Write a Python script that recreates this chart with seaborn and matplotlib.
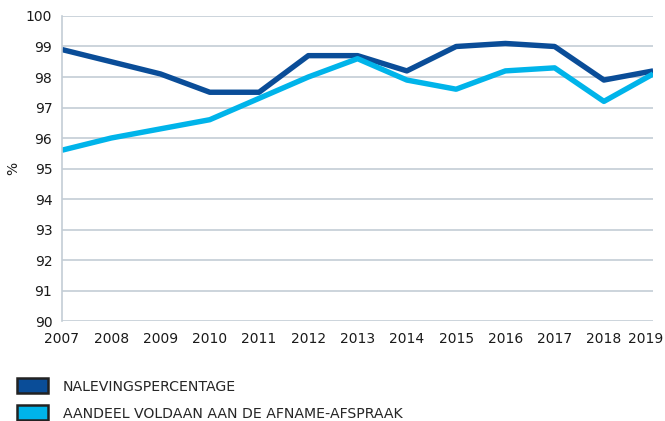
import matplotlib
matplotlib.use("Agg")
import matplotlib.pyplot as plt
import matplotlib.transforms as mtransforms
import seaborn as sns
import pandas as pd
from matplotlib.patches import Patch

years = [2007, 2008, 2009, 2010, 2011, 2012, 2013, 2014, 2015, 2016, 2017, 2018, 2019]
naleving = [98.9, 98.5, 98.1, 97.5, 97.5, 98.7, 98.7, 98.2, 99.0, 99.1, 99.0, 97.9, 98.2]
afname = [95.6, 96.0, 96.3, 96.6, 97.3, 98.0, 98.6, 97.9, 97.6, 98.2, 98.3, 97.2, 98.1]
series_names = ["NALEVINGSPERCENTAGE", "AANDEEL VOLDAAN AAN DE AFNAME-AFSPRAAK"]
colors = ["#0a4d98", "#00b4ea"]
yticks = list(range(90, 101))

df = pd.DataFrame({
    "year": years * 2,
    "value": naleving + afname,
    "series": [series_names[0]] * len(years) + [series_names[1]] * len(years),
})

sns.set_style("white")
plt.rcParams["font.family"] = ["DejaVu Sans"]

fig = plt.figure(figsize=(6.65, 4.21), dpi=100)
ax = fig.add_axes([0.0932, 0.2375, 0.889, 0.7245])

sns.lineplot(data=df, x="year", y="value", hue="series", palette=colors,
             linewidth=3.9, legend=False, ax=ax, solid_capstyle="butt",
             solid_joinstyle="round")

ax.set_xlim(2007, 2019)
ax.set_ylim(90, 100)
ax.set_xticks(years)
ax.set_yticks(yticks)
ax.set_xticklabels([str(y) for y in years], fontsize=10, color="#1a1a1a")
ax.set_yticklabels([str(t) for t in yticks], fontsize=10, color="#1a1a1a")
ax.tick_params(axis="both", length=0)
ax.tick_params(axis="y", pad=7)
ax.tick_params(axis="x", pad=8)
ax.grid(axis="y", color="#c3cdd5", linewidth=1.2)
ax.set_axisbelow(True)
for s in ["top", "right", "bottom"]:
    ax.spines[s].set_visible(False)
ax.spines["left"].set_color("#c3cdd5")
ax.spines["left"].set_linewidth(1.2)
ax.set_xlabel("")
ax.set_ylabel("%", fontsize=10, color="#1a1a1a")
ax.yaxis.set_label_coords(-0.071, 0.5)

# shift the last year label slightly left, as in the reference
last = ax.get_xticklabels()[-1]
last.set_transform(last.get_transform() +
                   mtransforms.ScaledTranslation(-8 / 100, 0, fig.dpi_scale_trans))

handles = [Patch(facecolor=c, edgecolor="#222222", linewidth=1.8) for c in colors]
fig.legend(handles, series_names, loc="upper left", bbox_to_anchor=(0.025, 0.101),
           frameon=False, fontsize=10.2, handlelength=2.2, handleheight=1.25,
           handletextpad=1.05, labelspacing=0.82, borderpad=0, borderaxespad=0)

fig.savefig("out.png", dpi=100)
